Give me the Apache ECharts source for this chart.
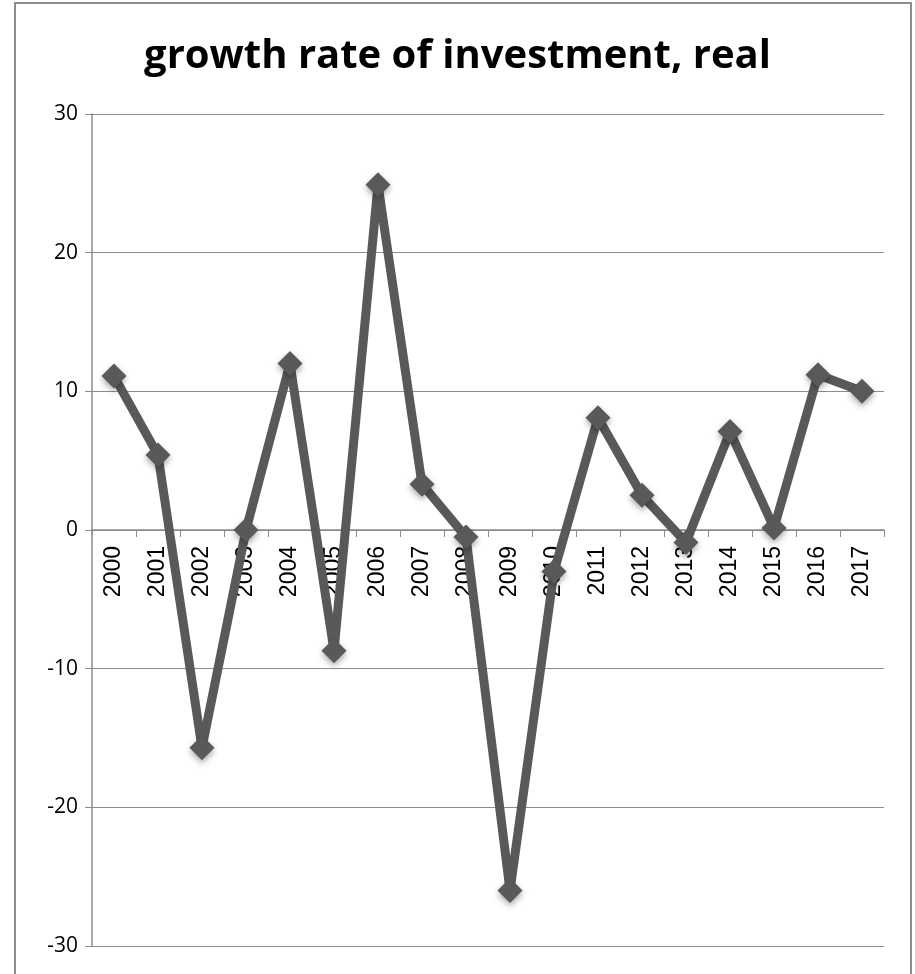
<!DOCTYPE html>
<html><head><meta charset="utf-8">
<script src="https://cdn.jsdelivr.net/npm/echarts@6/dist/echarts.min.js"></script>
<style>html,body{margin:0;padding:0;background:#fff}#c{width:915px;height:974px}</style>
</head><body><div id="c"></div>
<script>
const categories = ['2000','2001','2002','2003','2004','2005','2006','2007','2008','2009','2010','2011','2012','2013','2014','2015','2016','2017'];
const values = [11.1, 5.4, -15.7, 0.0, 12.0, -8.7, 24.9, 3.3, -0.5, -26.0, -3.0, 8.1, 2.5, -0.9, 7.1, 0.15, 11.2, 10.0];
const yTicks = [-30, -20, -10, 0, 10, 20, 30];
const titleText = 'growth rate of investment, real';

const gridTop = 114, gridBottom = 28, H = 974;
const yMin = yTicks[0], yMax = yTicks[yTicks.length - 1];
// distance from the grid's bottom edge up to the zero line (layout only)
const plotH = H - gridTop - gridBottom;
const zeroOffset = plotH * (0 - yMin) / (yMax - yMin);

const chart = echarts.init(document.getElementById('c'), null, {renderer: 'canvas'});
chart.setOption({
  backgroundColor: '#fff',
  animation: false,
  title: {
    text: titleText, left: 'center', top: 32,
    textStyle: {fontFamily: 'Open Sans', fontWeight: 'bold', fontSize: 40, color: '#000'}
  },
  graphic: [{
    type: 'rect', shape: {x: 15, y: 3, width: 896, height: 1000},
    style: {fill: 'none', stroke: '#8c8c8c', lineWidth: 2}, silent: true
  }],
  grid: {left: 92, right: 31, top: gridTop, bottom: gridBottom, outerBoundsMode: 'none', containLabel: false},
  xAxis: {
    type: 'category', data: categories, boundaryGap: true,
    position: 'bottom', offset: -zeroOffset,
    axisLine: {onZero: false, lineStyle: {color: '#8c8c8c', width: 1.5}},
    axisTick: {show: true, length: 7, inside: false, lineStyle: {color: '#8c8c8c'}},
    axisLabel: {rotate: 90, fontFamily: 'Liberation Sans', fontSize: 23, color: '#000', margin: 16, hideOverlap: false}
  },
  yAxis: {
    type: 'value', min: yMin, max: yMax, interval: 10,
    axisLine: {show: true, lineStyle: {color: '#8c8c8c', width: 1.5}},
    axisTick: {show: true, length: 7, lineStyle: {color: '#8c8c8c'}},
    axisLabel: {fontFamily: 'Open Sans', fontSize: 21, color: '#000', margin: 14},
    splitLine: {show: true, lineStyle: {color: '#8c8c8c', width: 1}}
  },
  series: [{
    type: 'line', data: values,
    symbol: 'diamond', symbolSize: 25,
    lineStyle: {color: '#595959', width: 9},
    itemStyle: {color: '#595959', shadowBlur: 6, shadowColor: 'rgba(0,0,0,0.35)', shadowOffsetY: 3},
    z: 3
  }]
});
</script></body></html>
